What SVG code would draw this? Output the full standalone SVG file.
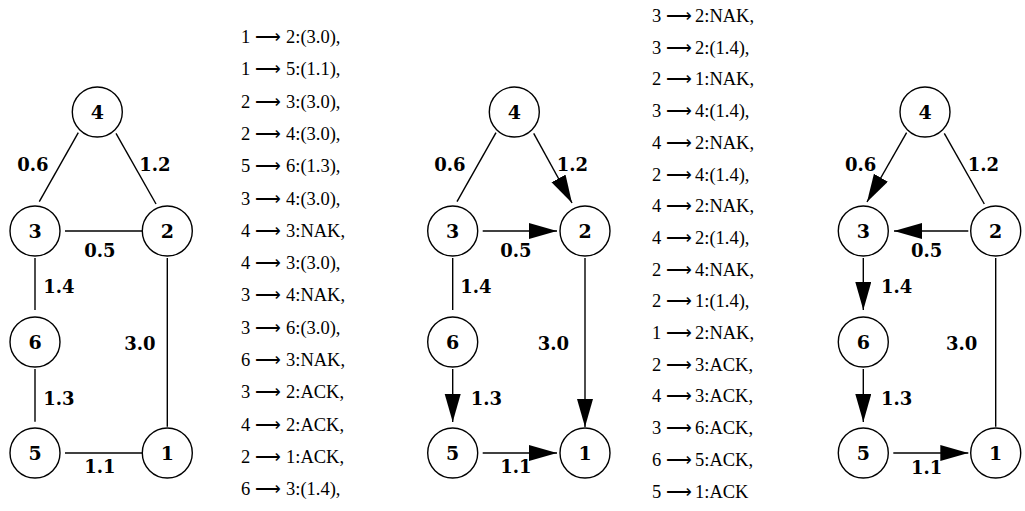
<svg xmlns="http://www.w3.org/2000/svg" width="1025" height="511" viewBox="0 0 1025 511">
<style>
.n circle{fill:#fff;stroke:#000;stroke-width:1.4}
.n text{font-family:"DejaVu Serif","Liberation Serif",serif;font-weight:bold;font-size:19px;text-anchor:middle}
.e line{stroke:#000;stroke-width:1.4}
.e .a{marker-end:url(#ah)}
.lbl{font-family:"DejaVu Serif","Liberation Serif",serif;font-weight:bold;font-size:18px;text-anchor:middle}
.col{font-family:"Liberation Serif",serif;font-size:18.5px}
.ar{font-family:"DejaVu Sans",sans-serif;font-weight:200;font-size:18px}
</style>
<defs>
<marker id="ah" markerUnits="userSpaceOnUse" markerWidth="30" markerHeight="18" refX="28" refY="8" orient="auto" viewBox="0 0 30 18">
<path d="M0,0 L28,8 L0,16 z" fill="#000"/>
</marker>
</defs>
<rect width="1025" height="511" fill="#fff"/>

<!-- connectors -->
<g id="connectors" class="e">
<!-- graph 1 -->
<line x1="78.3" y1="132.7" x2="39.3" y2="201.7"/>
<line x1="116" y1="133.3" x2="156" y2="204"/>
<line x1="65" y1="231" x2="142" y2="231"/>
<line x1="35" y1="258" x2="35" y2="310"/>
<line x1="35" y1="369" x2="35" y2="421.7"/>
<line x1="167.3" y1="258" x2="167.3" y2="426.7"/>
<line x1="65" y1="453" x2="142" y2="453"/>
<!-- graph 2 -->
<line x1="496" y1="132.7" x2="457" y2="201.7"/>
<line class="a" x1="533.7" y1="133.3" x2="572" y2="203"/>
<line class="a" x1="482.7" y1="231" x2="557" y2="231"/>
<line x1="452.7" y1="258" x2="452.7" y2="310"/>
<line class="a" x1="452.7" y1="369" x2="452.7" y2="422"/>
<line class="a" x1="585" y1="258" x2="585" y2="427"/>
<line class="a" x1="482.7" y1="453" x2="557" y2="453"/>
<!-- graph 3 -->
<line class="a" x1="906.6" y1="132.7" x2="867" y2="202"/>
<line x1="944.3" y1="133.3" x2="984.3" y2="204"/>
<line class="a" x1="968.3" y1="231" x2="894" y2="231"/>
<line class="a" x1="863.3" y1="258" x2="863.3" y2="310"/>
<line class="a" x1="863.3" y1="369" x2="863.3" y2="422"/>
<line x1="995.7" y1="258" x2="995.7" y2="426.7"/>
<line class="a" x1="893.3" y1="453" x2="968.3" y2="453"/>
</g>

<!-- edge labels -->
<g id="edge-labels" class="lbl">
<text x="33" y="171">0.6</text>
<text x="155" y="171">1.2</text>
<text x="100" y="257">0.5</text>
<text x="59" y="293">1.4</text>
<text x="140" y="350">3.0</text>
<text x="59" y="405">1.3</text>
<text x="100" y="473">1.1</text>

<text x="450" y="171">0.6</text>
<text x="572.3" y="171">1.2</text>
<text x="516" y="257">0.5</text>
<text x="476" y="293">1.4</text>
<text x="553.3" y="350">3.0</text>
<text x="486.5" y="405">1.3</text>
<text x="516" y="473">1.1</text>

<text x="860.7" y="171">0.6</text>
<text x="983.3" y="171">1.2</text>
<text x="926.7" y="257">0.5</text>
<text x="896.7" y="293">1.4</text>
<text x="961.7" y="350">3.0</text>
<text x="896.7" y="405">1.3</text>
<text x="926.7" y="474">1.1</text>
</g>

<!-- graph 1 nodes -->
<g id="g1-n4" class="n"><circle cx="97.3" cy="112" r="25"/><text x="97.3" y="119">4</text></g>
<g id="g1-n3" class="n"><circle cx="35" cy="231" r="25"/><text x="35" y="238">3</text></g>
<g id="g1-n2" class="n"><circle cx="167.3" cy="231" r="25"/><text x="167.3" y="238">2</text></g>
<g id="g1-n6" class="n"><circle cx="35" cy="342" r="25"/><text x="35" y="349">6</text></g>
<g id="g1-n5" class="n"><circle cx="35" cy="453" r="25"/><text x="35" y="460">5</text></g>
<g id="g1-n1" class="n"><circle cx="167.3" cy="453" r="25"/><text x="167.3" y="460">1</text></g>

<!-- graph 2 nodes -->
<g id="g2-n4" class="n"><circle cx="514.3" cy="112" r="25"/><text x="514.3" y="119">4</text></g>
<g id="g2-n3" class="n"><circle cx="452.7" cy="231" r="25"/><text x="452.7" y="238">3</text></g>
<g id="g2-n2" class="n"><circle cx="585" cy="231" r="25"/><text x="585" y="238">2</text></g>
<g id="g2-n6" class="n"><circle cx="452.7" cy="342" r="25"/><text x="452.7" y="349">6</text></g>
<g id="g2-n5" class="n"><circle cx="452.7" cy="453" r="25"/><text x="452.7" y="460">5</text></g>
<g id="g2-n1" class="n"><circle cx="585" cy="453" r="25"/><text x="585" y="460">1</text></g>

<!-- graph 3 nodes -->
<g id="g3-n4" class="n"><circle cx="925" cy="112" r="25"/><text x="925" y="119">4</text></g>
<g id="g3-n3" class="n"><circle cx="863.3" cy="231" r="25"/><text x="863.3" y="238">3</text></g>
<g id="g3-n2" class="n"><circle cx="995.7" cy="231" r="25"/><text x="995.7" y="238">2</text></g>
<g id="g3-n6" class="n"><circle cx="863.3" cy="342" r="25"/><text x="863.3" y="349">6</text></g>
<g id="g3-n5" class="n"><circle cx="863.3" cy="453" r="25"/><text x="863.3" y="460">5</text></g>
<g id="g3-n1" class="n"><circle cx="995.7" cy="453" r="25"/><text x="995.7" y="460">1</text></g>

<!-- message log column 1 -->
<g id="log1" class="col">
<text x="241" y="43">1<tspan class="ar" x="255" textLength="26" lengthAdjust="spacingAndGlyphs">⟶</tspan><tspan x="286">2:(3.0),</tspan></text>
<text x="241" y="75.3">1<tspan class="ar" x="255" textLength="26" lengthAdjust="spacingAndGlyphs">⟶</tspan><tspan x="286">5:(1.1),</tspan></text>
<text x="241" y="107.6">2<tspan class="ar" x="255" textLength="26" lengthAdjust="spacingAndGlyphs">⟶</tspan><tspan x="286">3:(3.0),</tspan></text>
<text x="241" y="139.9">2<tspan class="ar" x="255" textLength="26" lengthAdjust="spacingAndGlyphs">⟶</tspan><tspan x="286">4:(3.0),</tspan></text>
<text x="241" y="172.2">5<tspan class="ar" x="255" textLength="26" lengthAdjust="spacingAndGlyphs">⟶</tspan><tspan x="286">6:(1.3),</tspan></text>
<text x="241" y="204.5">3<tspan class="ar" x="255" textLength="26" lengthAdjust="spacingAndGlyphs">⟶</tspan><tspan x="286">4:(3.0),</tspan></text>
<text x="241" y="236.8">4<tspan class="ar" x="255" textLength="26" lengthAdjust="spacingAndGlyphs">⟶</tspan><tspan x="286">3:NAK,</tspan></text>
<text x="241" y="269.1">4<tspan class="ar" x="255" textLength="26" lengthAdjust="spacingAndGlyphs">⟶</tspan><tspan x="286">3:(3.0),</tspan></text>
<text x="241" y="301.4">3<tspan class="ar" x="255" textLength="26" lengthAdjust="spacingAndGlyphs">⟶</tspan><tspan x="286">4:NAK,</tspan></text>
<text x="241" y="333.7">3<tspan class="ar" x="255" textLength="26" lengthAdjust="spacingAndGlyphs">⟶</tspan><tspan x="286">6:(3.0),</tspan></text>
<text x="241" y="366">6<tspan class="ar" x="255" textLength="26" lengthAdjust="spacingAndGlyphs">⟶</tspan><tspan x="286">3:NAK,</tspan></text>
<text x="241" y="398.3">3<tspan class="ar" x="255" textLength="26" lengthAdjust="spacingAndGlyphs">⟶</tspan><tspan x="286">2:ACK,</tspan></text>
<text x="241" y="430.6">4<tspan class="ar" x="255" textLength="26" lengthAdjust="spacingAndGlyphs">⟶</tspan><tspan x="286">2:ACK,</tspan></text>
<text x="241" y="462.9">2<tspan class="ar" x="255" textLength="26" lengthAdjust="spacingAndGlyphs">⟶</tspan><tspan x="286">1:ACK,</tspan></text>
<text x="241" y="495.2">6<tspan class="ar" x="255" textLength="26" lengthAdjust="spacingAndGlyphs">⟶</tspan><tspan x="286">3:(1.4),</tspan></text>
</g>

<!-- message log column 2 -->
<g id="log2" class="col">
<text x="652" y="22">3<tspan class="ar" x="666" textLength="26" lengthAdjust="spacingAndGlyphs">⟶</tspan><tspan x="695">2:NAK,</tspan></text>
<text x="652" y="53.7">3<tspan class="ar" x="666" textLength="26" lengthAdjust="spacingAndGlyphs">⟶</tspan><tspan x="695">2:(1.4),</tspan></text>
<text x="652" y="85.4">2<tspan class="ar" x="666" textLength="26" lengthAdjust="spacingAndGlyphs">⟶</tspan><tspan x="695">1:NAK,</tspan></text>
<text x="652" y="117.1">3<tspan class="ar" x="666" textLength="26" lengthAdjust="spacingAndGlyphs">⟶</tspan><tspan x="695">4:(1.4),</tspan></text>
<text x="652" y="148.8">4<tspan class="ar" x="666" textLength="26" lengthAdjust="spacingAndGlyphs">⟶</tspan><tspan x="695">2:NAK,</tspan></text>
<text x="652" y="180.5">2<tspan class="ar" x="666" textLength="26" lengthAdjust="spacingAndGlyphs">⟶</tspan><tspan x="695">4:(1.4),</tspan></text>
<text x="652" y="212.2">4<tspan class="ar" x="666" textLength="26" lengthAdjust="spacingAndGlyphs">⟶</tspan><tspan x="695">2:NAK,</tspan></text>
<text x="652" y="243.9">4<tspan class="ar" x="666" textLength="26" lengthAdjust="spacingAndGlyphs">⟶</tspan><tspan x="695">2:(1.4),</tspan></text>
<text x="652" y="275.6">2<tspan class="ar" x="666" textLength="26" lengthAdjust="spacingAndGlyphs">⟶</tspan><tspan x="695">4:NAK,</tspan></text>
<text x="652" y="307.3">2<tspan class="ar" x="666" textLength="26" lengthAdjust="spacingAndGlyphs">⟶</tspan><tspan x="695">1:(1.4),</tspan></text>
<text x="652" y="339">1<tspan class="ar" x="666" textLength="26" lengthAdjust="spacingAndGlyphs">⟶</tspan><tspan x="695">2:NAK,</tspan></text>
<text x="652" y="370.7">2<tspan class="ar" x="666" textLength="26" lengthAdjust="spacingAndGlyphs">⟶</tspan><tspan x="695">3:ACK,</tspan></text>
<text x="652" y="402.4">4<tspan class="ar" x="666" textLength="26" lengthAdjust="spacingAndGlyphs">⟶</tspan><tspan x="695">3:ACK,</tspan></text>
<text x="652" y="434.1">3<tspan class="ar" x="666" textLength="26" lengthAdjust="spacingAndGlyphs">⟶</tspan><tspan x="695">6:ACK,</tspan></text>
<text x="652" y="465.8">6<tspan class="ar" x="666" textLength="26" lengthAdjust="spacingAndGlyphs">⟶</tspan><tspan x="695">5:ACK,</tspan></text>
<text x="652" y="497.5">5<tspan class="ar" x="666" textLength="26" lengthAdjust="spacingAndGlyphs">⟶</tspan><tspan x="695">1:ACK</tspan></text>
</g>
</svg>
